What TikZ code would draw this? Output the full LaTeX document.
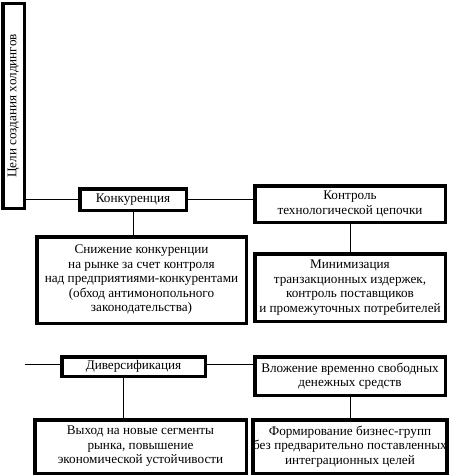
\documentclass[tikz,border=0pt]{standalone}
\usepackage{fontspec}
\setmainfont{Liberation Serif}
\begin{document}
\begin{tikzpicture}[x=1pt,y=-1pt,
  box/.style={draw,line width=3.5pt,inner sep=0pt,align=center,
    font=\fontsize{13.2}{14.5}\selectfont},
  conn/.style={line width=1pt}]
\useasboundingbox (0,0) rectangle (456,476);
% boxes: centre = mean of outer edges, size = outer - line width
\node[box,minimum width=21.5pt,minimum height=204.5pt] (V) at (13.5,106)
  {\rotatebox{90}{Цели создания холдингов}};
\node[box,minimum width=106.5pt,minimum height=21.5pt] (K) at (133,199.5) {Конкуренция};
\node[box,minimum width=190.5pt,minimum height=36.5pt] (T) at (350,204)
  {Контроль\\технологической цепочки};
\node[box,minimum width=209.5pt,minimum height=86.5pt] (KL) at (141.5,280)
  {Снижение конкуренции\\на рынке за счет контроля\\над предприятиями-конкурентами\\(обход антимонопольного\\законодательства)};
\node[box,minimum width=190.5pt,minimum height=67.5pt] (TL) at (350,287.5)
  {Минимизация\\транзакционных издержек,\\контроль поставщиков\\и промежуточных потребителей};
\node[box,minimum width=143.5pt,minimum height=19.5pt] (D) at (133.5,366.5) {Диверсификация};
\node[box,minimum width=190.5pt,minimum height=38.5pt] (S) at (350,376)
  {Вложение временно свободных\\денежных средств};
\node[box,minimum width=211.5pt,minimum height=53.5pt] (DL) at (140.5,446.5)
  {Выход на новые сегменты\\рынка, повышение\\экономической устойчивости};
\node[box,minimum width=190.5pt,minimum height=53.5pt] (SL) at (350,446.5)
  {Формирование бизнес-групп\\без предварительно поставленных\\интеграционных целей};
\coordinate (free) at (25,364);
% connectors
\draw[conn] (K.west -| V.east) -- (K.west);
\draw[conn] (K.east) -- (K.east -| T.west);
\draw[conn] (K.south) -- (K.south |- KL.north);
\draw[conn] (T.south) -- (T.south |- TL.north);
\draw[conn] (free) -- (free -| D.west);
\draw[conn] (free -| D.east) -- (free -| S.west);
\draw[conn] ([xshift=-10pt]D.south) -- ([xshift=-10pt]D.south |- DL.north);
\draw[conn] (S.south) -- (S.south |- SL.north);
\end{tikzpicture}
\end{document}
